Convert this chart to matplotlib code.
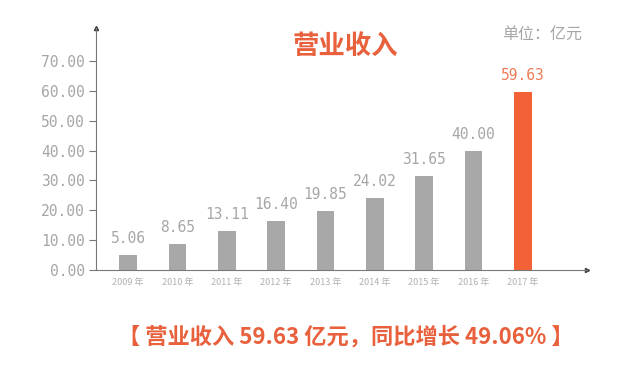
import matplotlib.pyplot as plt
import numpy as np

plt.rcParams['font.family'] = ['Noto Sans CJK SC', 'DejaVu Sans']

years = ['2009 年', '2010 年', '2011 年', '2012 年', '2013 年', '2014 年', '2015 年', '2016 年', '2017 年']
revenue = [5.06, 8.65, 13.11, 16.40, 19.85, 24.02, 31.65, 40.00, 59.63]
yticks = [0, 10, 20, 30, 40, 50, 60, 70]

gray = '#a8a8a8'
orange = '#f26236'
text_gray = '#a6a6a6'
mono = 'DejaVu Sans Mono'

fig = plt.figure(figsize=(6.4, 3.65), dpi=100)
ax = fig.add_axes([0.15, 0.26, 0.767, 0.663])

x = np.arange(len(years))
colors = [gray] * (len(years) - 1) + [orange]
ax.bar(x, revenue, width=0.36, color=colors)

for i, v in enumerate(revenue):
    ax.text(i, v + 3.0, '%.2f' % v, ha='center', va='bottom', fontsize=10.5, family=mono,
            color='#ee7a55' if i == len(revenue) - 1 else text_gray)

ax.set_xlim(-0.65, 9.3)
ax.set_ylim(0, 81)
ax.set_xticks(x)
ax.set_xticklabels(years, fontsize=6.5, color='#b0b0b0')
ax.set_yticks(yticks)
ax.set_yticklabels(['%.2f' % t for t in yticks], fontsize=10.5, color=text_gray, family=mono)
ax.tick_params(axis='x', length=0, pad=6)
ax.tick_params(axis='y', length=5, color='#777777', pad=3)

for s in ['top', 'right']:
    ax.spines[s].set_visible(False)
ax.spines['left'].set_color('#777777')
ax.spines['bottom'].set_color('#777777')
ax.spines['left'].set_linewidth(0.8)
ax.spines['bottom'].set_linewidth(0.8)
ax.plot(1, 0, '>', color='#444444', markersize=3, transform=ax.transAxes, clip_on=False)
ax.plot(0, 1, '^', color='#444444', markersize=3, transform=ax.transAxes, clip_on=False)

fig.text(0.54, 0.872, '营业收入', ha='center', va='center', fontsize=19,
         fontweight='bold', color='#e8603c')
fig.text(0.847, 0.907, '单位：亿元', ha='center', va='center', fontsize=11.5, color=text_gray)
fig.text(0.54, 0.077, '【 营业收入 59.63 亿元，同比增长 49.06% 】', ha='center', va='center',
         fontsize=16, fontweight='bold', color='#e8603c')

fig.savefig('out.png', dpi=100, facecolor='white')
